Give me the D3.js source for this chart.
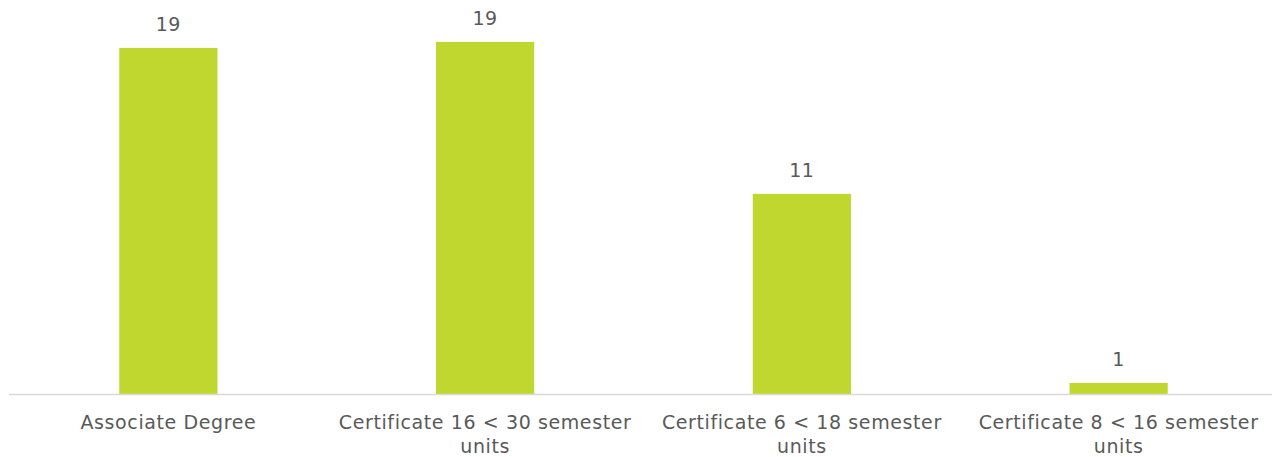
<!DOCTYPE html>
<html>
<head>
<meta charset="utf-8">
<script src="https://cdn.jsdelivr.net/npm/d3@7"></script>
<style>
  html, body { margin: 0; padding: 0; background: #fff; }
  svg { display: block; }
  text { font-family: "DejaVu Sans", "Open Sans", sans-serif; fill: #595959; }
</style>
</head>
<body>
<svg id="chart" width="1272" height="457"></svg>
<script>
const categories = [
  "Associate Degree",
  "Certificate 16 < 30 semester units",
  "Certificate 6 < 18 semester units",
  "Certificate 8 < 16 semester units"
];
const values = [19.0, 19.33, 11.0, 0.63];

const svg = d3.select("#chart");
const x = d3.scaleBand().domain(categories).range([10, 1277]).paddingInner(0.69).paddingOuter(0.345);
const y = d3.scaleLinear().domain([0, 20]).range([394.5, 29.7]);

// bars
svg.append("g").selectAll("rect").data(values).join("rect")
  .attr("x", (d, i) => x(categories[i]))
  .attr("width", x.bandwidth())
  .attr("y", d => y(d))
  .attr("height", d => y(0) - y(d))
  .attr("fill", "#c0d72f");

// axis
const axis = d3.axisBottom(x).tickSize(0).tickPadding(0);
const gx = svg.append("g").attr("transform", `translate(0,${y(0)})`).call(axis);
gx.select(".domain").attr("stroke", "#d9d9d9").attr("stroke-width", 1.5).attr("d", "M9,0H1272");
gx.selectAll(".tick text").remove();

const fs = 19;
const ls = 0.6;
const maxW = 312;
gx.selectAll(".tick").each(function(d) {
  const t = d3.select(this).append("text")
    .attr("text-anchor", "middle")
    .attr("font-size", fs)
    .attr("letter-spacing", ls)
    .attr("y", 34);
  const words = d.split(" ");
  let line = [], lines = [];
  const tmp = t.append("tspan").attr("x", 0);
  words.forEach(w => {
    line.push(w);
    tmp.text(line.join(" "));
    if (tmp.node().getComputedTextLength() > maxW && line.length > 1) {
      line.pop();
      lines.push(line.join(" "));
      line = [w];
    }
  });
  lines.push(line.join(" "));
  tmp.remove();
  lines.forEach((l, i) => {
    t.append("tspan").attr("x", 0).attr("dy", i === 0 ? 0 : 24).text(l);
  });
});

// value labels
const fmt = d3.format(".0f");
svg.append("g").selectAll("text").data(values).join("text")
  .attr("x", (d, i) => x(categories[i]) + x.bandwidth() / 2)
  .attr("y", d => y(d) - 17)
  .attr("text-anchor", "middle")
  .attr("font-size", fs)
  .attr("letter-spacing", ls)
  .text(d => fmt(d));
</script>
</body>
</html>
